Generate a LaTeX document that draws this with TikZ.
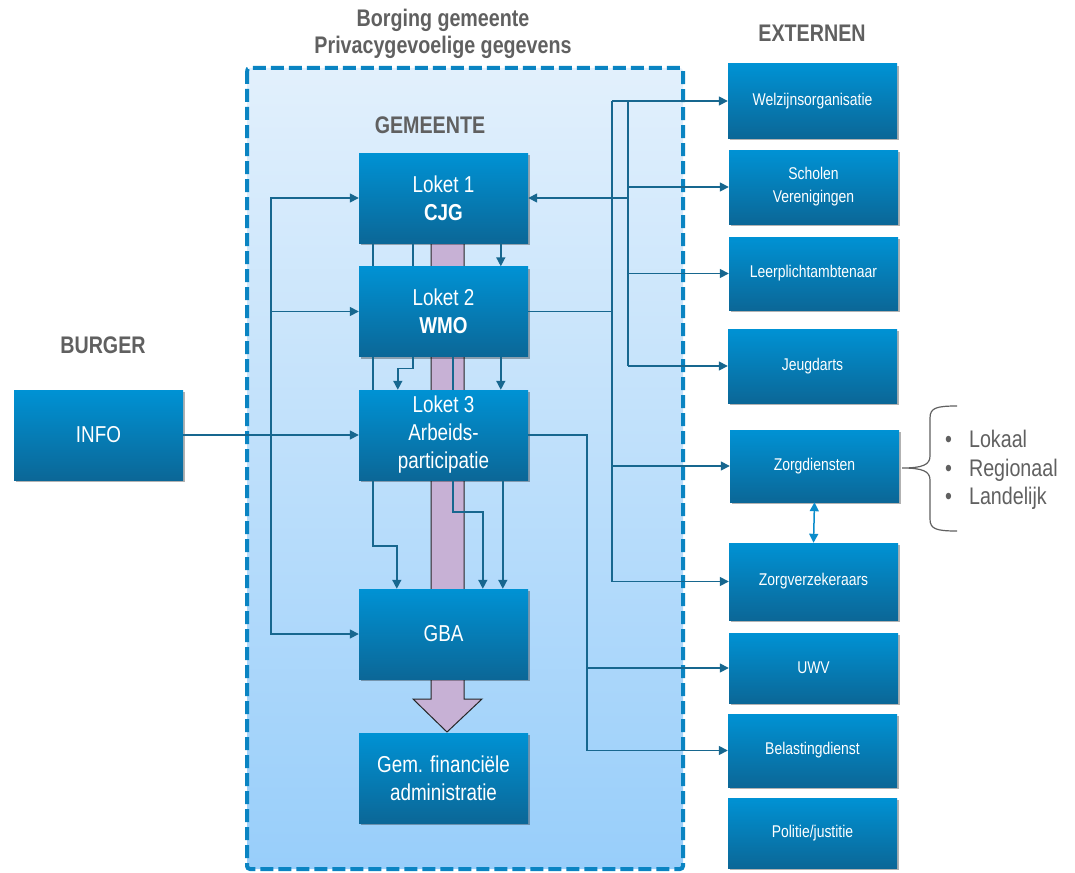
\documentclass[tikz,border=0pt]{standalone}
\usepackage{fontspec}
\setmainfont[FakeStretch=0.82]{Liberation Sans}
\usetikzlibrary{arrows.meta,shadows}
\definecolor{boxtop}{HTML}{0092D4}
\definecolor{boxbot}{HTML}{0B6797}
\definecolor{conncol}{HTML}{17678F}
\definecolor{headcol}{HTML}{606060}
\definecolor{dashcol}{HTML}{0A84C2}
\definecolor{regtop}{HTML}{E2F0FC}
\definecolor{regbot}{HTML}{98CEFA}
\definecolor{purp}{HTML}{C7B1D5}
\definecolor{dblcol}{HTML}{0A8CCB}
\tikzset{
  boxnode/.style={rectangle, inner sep=0pt, top color=boxtop, bottom color=boxbot,
    text=white, align=center, minimum width=169pt,
    drop shadow={shadow xshift=1.5pt,shadow yshift=-2pt,opacity=.3,fill=black}},
  bigbox/.style={boxnode, minimum height=90pt, font=\fontsize{23}{28}\selectfont},
  extbox/.style={boxnode, font=\fontsize{17}{23}\selectfont},
  heading/.style={text=headcol, font=\fontsize{24}{27}\selectfont\bfseries, align=center, inner sep=0pt},
  conn/.style={draw=conncol, line width=1.5pt},
  arr/.style={conn, -{Triangle[length=9pt,width=9pt]}},
}
\begin{document}
\begin{tikzpicture}[x=1pt,y=-1pt]
\useasboundingbox (0,0) rectangle (1075,872);
% region
\shade[top color=regtop, bottom color=regbot, rounded corners=3pt] (247,68) rectangle (683,869);
\draw[dashcol, line width=4pt, dash pattern=on 13pt off 5pt, rounded corners=3pt] (247,68) rectangle (683,869);
% purple arrow
\draw[fill=purp, draw=black!85, line width=1pt, line join=miter]
  (431,200) -- (431,699) -- (413,699) -- (447,732) -- (482,699) -- (464,699) -- (464,200);
% headings
\node[heading] (borg) at (443,34) {Borging gemeente\\Privacygevoelige gegevens};
\node[heading] (gemh) at (430,125) {GEMEENTE};
\node[heading] (burh) at (103,345) {BURGER};
\node[heading] (exth) at (812,33) {EXTERNEN};
% gemeente boxes
\node[bigbox] (l1) at (443.5,198) {Loket 1\\\textbf{CJG}};
\node[bigbox] (l2) at (443.5,311.5) {Loket 2\\\textbf{WMO}};
\node[bigbox] (l3) at (443.5,435) {Loket 3\\Arbeids-\\participatie};
\node[bigbox] (gba) at (443.5,634) {GBA};
\node[bigbox] (gfa) at (443.5,778) {Gem. financiële\\administratie};
\node[bigbox] (info) at (98.5,435) {INFO};
% external boxes
\node[extbox, minimum height=74pt] (welz) at (812.5,101) {Welzijnsorganisatie};
\node[extbox, minimum height=74pt] (schol) at (813.5,187) {Scholen\\Verenigingen};
\node[extbox, minimum height=73pt] (leer) at (813.5,273.5) {Leerplichtambtenaar};
\node[extbox, minimum height=74pt] (jeugd) at (812.5,366) {Jeugdarts};
\node[extbox, minimum height=72pt] (zorgd) at (814.5,466) {Zorgdiensten};
\node[extbox, minimum height=77pt] (zorgv) at (813.5,581.5) {Zorgverzekeraars};
\node[extbox, minimum height=70pt] (uwv) at (813.5,668) {UWV};
\node[extbox, minimum height=73pt] (bel) at (812.5,750.5) {Belastingdienst};
\node[extbox, minimum height=70pt] (pol) at (812.5,833) {Politie/justitie};
% left bus
\coordinate (lb) at (271,435);
\draw[arr] (info.east) -- (l3.west);
\draw[arr] (lb) |- (l1.west);
\draw[arr] (lb) |- (l2.west);
\draw[arr] (lb) |- (gba.west);
% between boxes
\draw[conn] ([xshift=14pt]l1.south west) -- ([xshift=14pt]l2.north west);
\draw[conn] ([xshift=54pt]l1.south west) -- ([xshift=54pt]l2.north west);
\draw[arr] ([xshift=142pt]l1.south west) -- ([xshift=142pt]l2.north west);
\draw[conn] ([xshift=14pt]l2.south west) -- ([xshift=14pt]l3.north west);
\draw[arr] ([xshift=54pt]l2.south west) -- ++(0,12) -| ([xshift=39pt]l3.north west);
\draw[conn] ([xshift=94pt]l2.south west) -- ([xshift=94pt]l3.north west);
\draw[arr] ([xshift=142pt]l2.south west) -- ([xshift=142pt]l3.north west);
\draw[arr] ([xshift=14pt]l3.south west) -- ++(0,66) -| ([xshift=38pt]gba.north west);
\draw[arr] ([xshift=94pt]l3.south west) -- ++(0,32) -| ([xshift=124pt]gba.north west);
\draw[arr] ([xshift=144pt]l3.south west) -- ([xshift=144pt]gba.north west);
% right buses
\coordinate (rb1) at (628,198);
\coordinate (rtop) at (628,101);
\coordinate (sb) at (612,101);
\coordinate (b3) at (587,435);
\draw[arr] (rb1) -- (l1.east);
\draw[conn] (rtop) -- (628,366);
\draw[arr] (sb) -- (welz.west);
\draw[arr] (628,187) -- (schol.west);
\draw[arr] (628,273.5) -- (leer.west);
\draw[arr] (628,366) -- (jeugd.west);
\draw[conn] (l2.east) -- (612,311.5);
\draw[conn] (sb) -- (612,581.5);
\draw[arr] (612,466) -- (zorgd.west);
\draw[arr] (612,581.5) -- (zorgv.west);
\draw[conn] (l3.east) -- (b3) -- (587,750.5);
\draw[arr] (587,668) -- (uwv.west);
\draw[arr] (587,750.5) -- (bel.west);
% double arrow
\draw[dblcol, line width=1.5pt, {Triangle[length=9pt,width=9pt]}-{Triangle[length=9pt,width=9pt]}] (zorgd.south) -- (zorgv.north);
% brace
\draw[headcol, line width=1.2pt] (957,406) .. controls (936,406) and (930,408) .. (930,418) -- (930,456)
  .. controls (930,465) and (922,468) .. (902,468)
  .. controls (922,468) and (930,471) .. (930,480) -- (930,519)
  .. controls (930,529) and (936,531) .. (957,531);
\node[text=headcol, align=left, anchor=west, inner sep=0pt, font=\fontsize{24}{28.5}\selectfont] (list) at (945,470)
  {\textbullet\hspace{17pt}Lokaal\\\textbullet\hspace{17pt}Regionaal\\\textbullet\hspace{17pt}Landelijk};
\end{tikzpicture}
\end{document}
